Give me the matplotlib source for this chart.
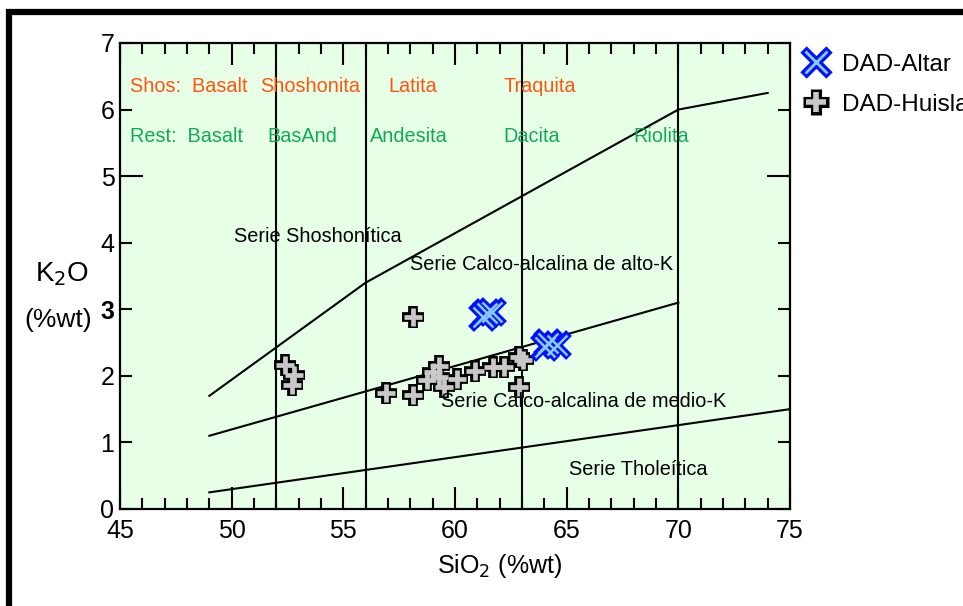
import matplotlib
matplotlib.use("Agg")
import matplotlib.pyplot as plt
from matplotlib.ticker import MultipleLocator, FixedLocator
from matplotlib.patches import Rectangle
from matplotlib.lines import Line2D
from matplotlib.legend_handler import HandlerTuple

plt.rcParams['font.family'] = ['Liberation Sans', 'DejaVu Sans']

# Sample compositions (SiO2 %wt, K2O %wt)
sio2_altar = [61.26, 61.42, 61.64, 64.03, 64.17, 64.55]
k2o_altar = [2.89, 2.94, 2.96, 2.44, 2.49, 2.46]

sio2_huisla = [52.39, 52.80, 52.70, 58.12, 56.90, 58.13, 58.75, 59.00, 59.30,
               59.30, 59.50, 60.10, 60.90, 61.70, 62.20, 62.85, 63.05, 62.85]
k2o_huisla = [2.16, 2.01, 1.86, 2.88, 1.75, 1.71, 1.94, 2.06, 2.15,
              1.99, 1.84, 1.96, 2.08, 2.14, 2.13, 2.29, 2.24, 1.83]

# Series boundaries (Peccerillo & Taylor style)
shos_x = [49, 56, 70, 74]
shos_y = [1.7, 3.4, 6.0, 6.25]
highk_x = [49, 70]
highk_y = [1.1, 3.1]
medk_x = [49, 75]
medk_y = [0.25, 1.5]
rock_limits = [52, 56, 63, 70]

# Rock names
shos_names = ["Shos:  Basalt", "Shoshonita", "Latita", "Traquita"]
shos_pos = [45.45, 51.27, 57.0, 62.15]
rest_names = ["Rest:  Basalt", "BasAnd", "Andesita", "Dacita", "Riolita"]
rest_pos = [45.45, 51.58, 56.2, 62.15, 67.97]

series_names = ["Serie Shoshonítica", "Serie Calco-alcalina de alto-K",
                "Serie Calco-alcalina de medio-K", "Serie Tholeítica"]
series_x = [50.1, 58.0, 59.38, 65.1]
series_y = [4.10, 3.67, 1.61, 0.59]

W, H = 963, 606
fig = plt.figure(figsize=(W / 100, H / 100), dpi=100)
ax = fig.add_axes([120 / W, 97 / H, 670 / W, 466 / H])
ax.set_facecolor('#E6FFE6')
ax.set_xlim(45, 75)
ax.set_ylim(0, 7)

for s in ax.spines.values():
    s.set_linewidth(1.6)

lw = 1.5
ax.plot(shos_x, shos_y, color='black', lw=lw)
ax.plot(highk_x, highk_y, color='black', lw=lw)
ax.plot(medk_x, medk_y, color='black', lw=lw)
for xv in rock_limits:
    ax.plot([xv, xv], [0, 7], color='black', lw=lw)

orange = '#FF5511'
green = '#11AA55'
for name, xp in zip(shos_names, shos_pos):
    ax.text(xp, 6.35, name, color=orange, fontsize=14.3, va='center', ha='left')
for name, xp in zip(rest_names, rest_pos):
    ax.text(xp, 5.59, name, color=green, fontsize=14.3, va='center', ha='left')
for name, xp, yp in zip(series_names, series_x, series_y):
    ax.text(xp, yp, name, color='black', fontsize=14.3, va='center', ha='left', zorder=5)

# Plus symbols: black outline under a grey core
plus_out = dict(linestyle='none', marker='+', mec='black')
plus_in = dict(linestyle='none', marker='+', mec='#C8C8C8')
ax.plot(sio2_huisla, k2o_huisla, ms=16.5, mew=7.0, zorder=4, **plus_out)
ax.plot(sio2_huisla, k2o_huisla, ms=13, mew=3.4, zorder=4, **plus_in)
# Cross symbols: blue outline under a light blue core
cross_out = dict(linestyle='none', marker='x', mec='#0011FF')
cross_in = dict(linestyle='none', marker='x', mec='#88CCFF')
ax.plot(sio2_altar, k2o_altar, ms=17, mew=6.0, zorder=4, **cross_out)
ax.plot(sio2_altar, k2o_altar, ms=14, mew=1.8, zorder=4, **cross_in)

# Ticks
ax.xaxis.set_major_locator(MultipleLocator(5))
ax.xaxis.set_minor_locator(MultipleLocator(1))
ax.yaxis.set_major_locator(MultipleLocator(1))
ax.yaxis.set_minor_locator(FixedLocator([5]))
ax.yaxis.remove_overlapping_locs = False
ax.tick_params(which='both', direction='in', top=True, right=True, width=1.5)
ax.tick_params(axis='x', which='major', length=16, labelsize=18, pad=7)
ax.tick_params(axis='x', which='minor', length=8)
ax.tick_params(axis='y', which='major', length=8.5, labelsize=18, pad=4)
ax.tick_params(axis='y', which='minor', length=16.5)
fig.canvas.draw()
for lab in ax.get_yticklabels():
    if lab.get_text() == '3':
        lab.set_fontweight('bold')

fig.text(500 / W, 1 - 566 / H, 'SiO$_2$ (%wt)', fontsize=18, ha='center', va='center')
fig.text(62 / W, 1 - 274 / H, 'K$_2$O', fontsize=20, ha='center', va='center')
fig.text(58 / W, 1 - 320 / H, '(%wt)', fontsize=19, ha='center', va='center')

# Legend with slightly enlarged symbols
leg_altar = (Line2D([], [], ms=19, mew=6.5, **cross_out),
             Line2D([], [], ms=15.5, mew=2.0, **cross_in))
leg_huisla = (Line2D([], [], ms=19, mew=8.0, **plus_out),
              Line2D([], [], ms=15, mew=4.0, **plus_in))
fig.legend([leg_altar, leg_huisla], ['DAD-Altar', 'DAD-Huisla'],
           handler_map={tuple: HandlerTuple(ndivide=1)},
           loc='upper left', bbox_to_anchor=(792 / W, 1 - 44 / H), frameon=False,
           fontsize=17.5, handletextpad=0.45, labelspacing=0.75, borderaxespad=0,
           handlelength=1.2)

# Outer frame
fig.add_artist(Rectangle((9 / W, -0.2), 1.5, 1.2 - 12 / H, transform=fig.transFigure,
                         fill=False, edgecolor='black', linewidth=4.5, clip_on=False))

fig.savefig('out.png', dpi=100)
